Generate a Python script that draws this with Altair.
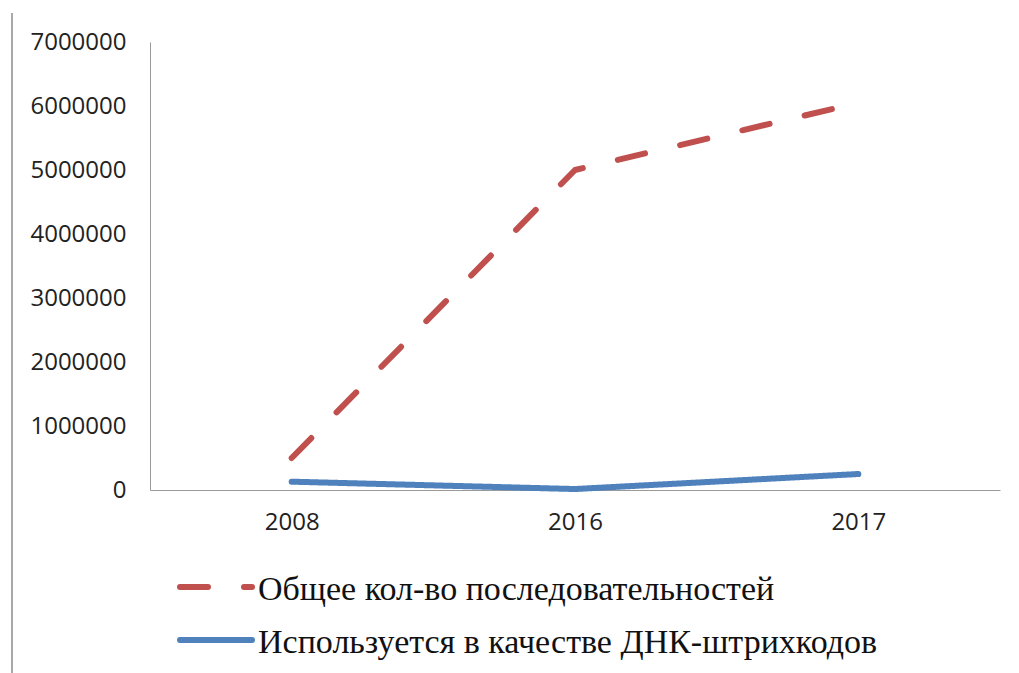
import altair as alt
import pandas as pd

# Years on the category axis
years = ["2008", "2016", "2017"]

# Series names (legend labels)
series_total = "Общее кол-во последовательностей"
series_barcode = "Используется в качестве ДНК-штрихкодов"

# Values per year
total_values = [500000, 5000000, 6050000]
barcode_values = [130000, 15000, 250000]

y_ticks = [0, 1000000, 2000000, 3000000, 4000000, 5000000, 6000000, 7000000]

series_order = [series_total, series_barcode]
series_colors = ["#C0504D", "#4F81BD"]
series_dashes = [[28, 36], [1, 0]]

rows = []
for yr, v in zip(years, total_values):
    rows.append({"year": yr, "value": v, "series": series_total})
for yr, v in zip(years, barcode_values):
    rows.append({"year": yr, "value": v, "series": series_barcode})
df = pd.DataFrame(rows)

axis_style = dict(
    title=None,
    ticks=False,
    grid=False,
    domainColor="#9a9a9a",
    labelFont="Open Sans",
    labelFontSize=24,
    labelColor="#222222",
)

lines = alt.Chart(df).mark_line(strokeWidth=6, strokeCap="round", strokeJoin="round").encode(
    x=alt.X(
        "year:O",
        sort=years,
        scale=alt.Scale(type="point", padding=0.5),
        axis=alt.Axis(labelAngle=0, labelPadding=20, **axis_style),
    ),
    y=alt.Y(
        "value:Q",
        scale=alt.Scale(domain=[0, 7000000], nice=False),
        axis=alt.Axis(values=y_ticks, format="d", labelPadding=24, **axis_style),
    ),
    color=alt.Color(
        "series:N",
        sort=series_order,
        scale=alt.Scale(domain=series_order, range=series_colors),
        legend=None,
    ),
    strokeDash=alt.StrokeDash(
        "series:N",
        sort=series_order,
        scale=alt.Scale(domain=series_order, range=series_dashes),
        legend=None,
    ),
)

# Legend below the plot: one sample line and one label per series
legend_layers = []
legend_rows_y = [545, 598]
for name, col, dash, ry in zip(series_order, series_colors, series_dashes, legend_rows_y):
    entry = pd.DataFrame({"series": [name]})
    sample = alt.Chart(entry).mark_rule(
        color=col, strokeWidth=6, strokeCap="round", strokeDash=dash
    ).encode(x=alt.value(30), x2=alt.value(102), y=alt.value(ry))
    label = alt.Chart(entry).mark_text(
        align="left",
        baseline="alphabetic",
        font="Liberation Serif",
        fontSize=34,
        color="#111111",
    ).encode(x=alt.value(108), y=alt.value(ry + 13), text="series:N")
    legend_layers += [sample, label]

# Thin frame line along the left edge of the figure
frame = alt.Chart(pd.DataFrame({"k": [0]})).mark_rule(color="#a8a8a8", strokeWidth=2).encode(
    x=alt.value(-138),
    y=alt.value(-29),
    y2=alt.value(640),
)

chart = alt.layer(frame, lines, *legend_layers).properties(
    width=850,
    height=448,
    autosize=alt.AutoSizeParams(type="none"),
    padding={"left": 150, "top": 42, "right": 19, "bottom": 183},
    background="white",
).configure_view(stroke=None)

chart.save("out.html", embed_options={"renderer": "svg", "actions": False})
